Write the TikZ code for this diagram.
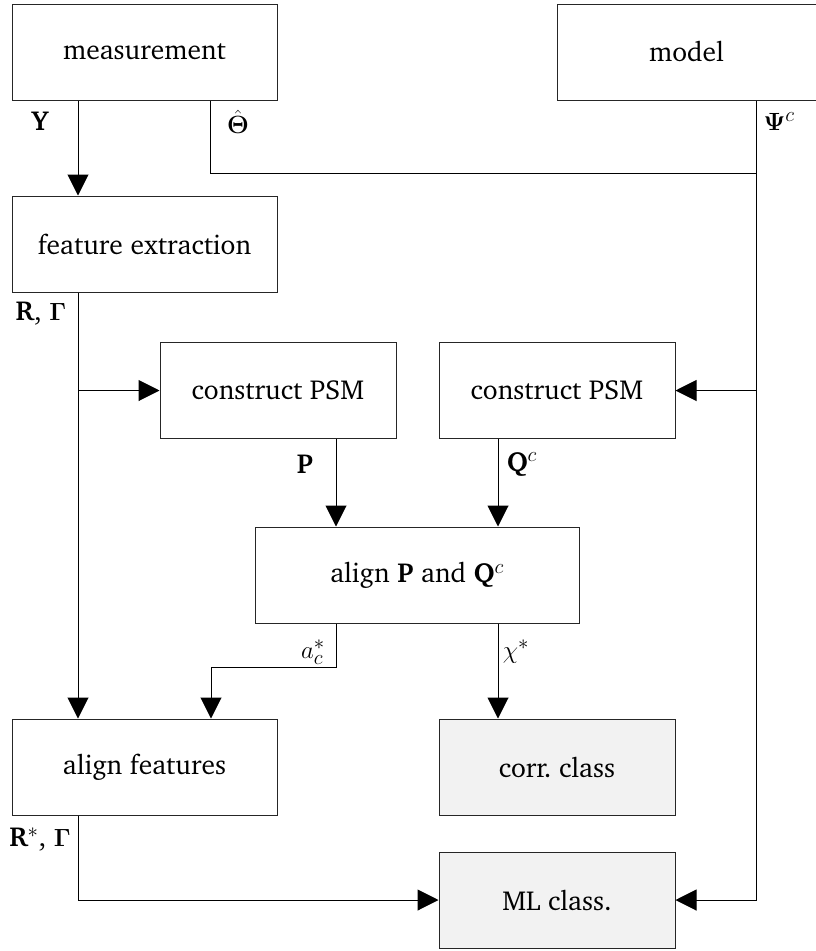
\documentclass[tikz,border=0pt]{standalone}
\usepackage[T1]{fontenc}
\usepackage{charter}
\usepackage{amsmath,amssymb,bm}
\usetikzlibrary{arrows.meta,calc}
\newcommand{\bfl}[1]{\textbf{#1}}
\begin{document}
\begin{tikzpicture}[x=1pt,y=-1pt,
  font=\fontsize{27.5}{33}\selectfont,
  box/.style={draw=black!85,line width=1pt,rectangle,inner sep=0pt,minimum height=96pt},
  wbox/.style={box,minimum width=265pt},
  nbox/.style={box,minimum width=236pt},
  shaded/.style={fill=black!5},
  conn/.style={draw=black,line width=1pt},
  arr/.style={conn,-{Triangle[length=21pt,width=21pt]}},
  lbl/.style={inner sep=0pt,font=\fontsize{27.5}{33}\selectfont}]
\useasboundingbox (0,0) rectangle (815,951);

\node[wbox] (meas) at (144.5,52) {measurement};
\node[box,minimum width=259pt] (model) at (686.5,52) {model};
\node[wbox] (featx) at (144.5,244) {feature extraction};
\node[nbox] (cpsmA) at (278,390.5) {construct PSM};
\node[nbox] (cpsmB) at (557,390.5) {construct PSM};
\node[box,minimum width=324pt] (alPQ) at (417,575) {align \bfl{P} and \bfl{Q}$^c$};
\node[wbox] (alfeat) at (144.5,767) {align features};
\node[nbox,shaded] (corr) at (557,767) {corr.\ class};
\node[nbox,shaded] (ml) at (557,900) {ML class.};

\coordinate (colA) at (78,0);
\coordinate (colB) at (210,0);
\coordinate (colR) at (756,0);
\coordinate (colP) at (336,0);
\coordinate (colQ) at (498,0);
\coordinate (colC) at (211,0);
\coordinate (rowT) at (0,173);
\coordinate (rowA) at (0,667);

% measurement -> feature extraction
\draw[arr] (meas.south -| colA) -- (featx.north -| colA);
% theta line
\draw[conn] (meas.south -| colB) -- (colB |- rowT) -- (colR |- rowT);
% psi line
\draw[arr] (model.south -| colR) |- (ml.east);
\draw[arr] (cpsmB.east -| colR) -- (cpsmB.east);
% R, Gamma
\draw[arr] (featx.south -| colA) -- (alfeat.north -| colA);
\draw[arr] (cpsmA.west -| colA) -- (cpsmA.west);
% P, Q
\draw[arr] (cpsmA.south -| colP) -- (alPQ.north -| colP);
\draw[arr] (cpsmB.south -| colQ) -- (alPQ.north -| colQ);
% a_c^*
\draw[arr] (alPQ.south -| colP) -- (colP |- rowA) -- (colC |- rowA) -- (alfeat.north -| colC);
% chi
\draw[arr] (alPQ.south -| colQ) -- (corr.north -| colQ);
% R*, Gamma
\draw[arr] (alfeat.south -| colA) |- (ml.west);

% labels
\node[lbl] (lY) at (40,121) {\bfl{Y}};
\node[lbl] (lT) at (238,122) {$\hat{\boldsymbol{\Theta}}$};
\node[lbl] (lPsi) at (779,122) {$\boldsymbol{\Psi}^c$};
\node[lbl] (lRG) at (41,313) {\bfl{R}, $\boldsymbol{\Gamma}$};
\node[lbl] (lP) at (305,464) {\bfl{P}};
\node[lbl] (lQ) at (522,464) {\bfl{Q}$^c$};
\node[lbl] (la) at (313,652) {$a_c^*$};
\node[lbl] (lchi) at (516,652) {$\chi^*$};
\node[lbl] (lRs) at (40,839) {\bfl{R}$^*$, $\boldsymbol{\Gamma}$};
\end{tikzpicture}
\end{document}
